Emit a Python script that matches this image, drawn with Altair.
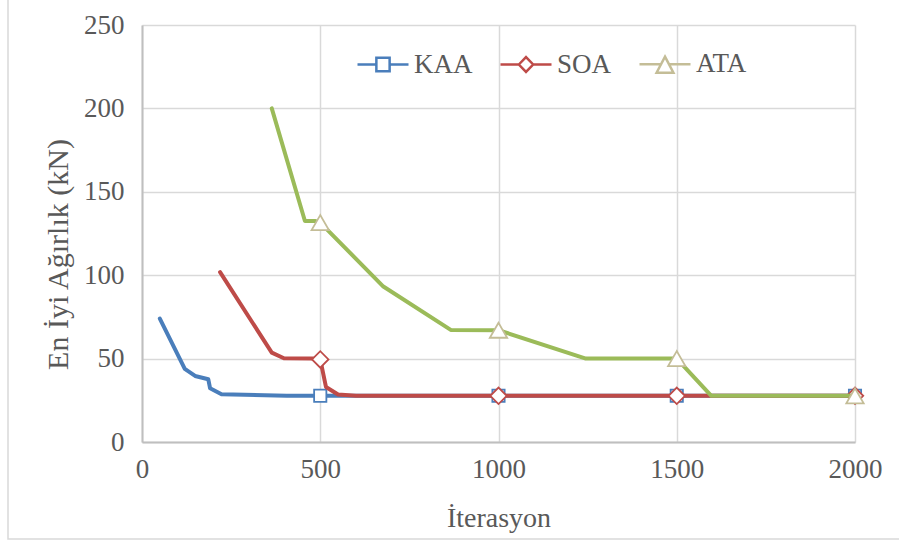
import altair as alt
import pandas as pd

# ---- data ----
SERIES = ["KAA", "SOA", "ATA"]

kaa_iter = [50, 120, 149, 186, 191, 223, 406, 500, 1000, 1500, 2000]
kaa_val = [74, 43.8, 39.6, 37.6, 32.2, 28.6, 27.8, 27.7, 27.7, 27.7, 27.7]

soa_iter = [219, 364, 398, 478, 500, 516, 550, 600, 1000, 1500, 2000]
soa_val = [101.8, 53.6, 50.2, 50, 49.5, 33, 28.5, 27.7, 27.7, 27.7, 27.7]

ata_iter = [364, 457, 485, 500, 677, 866, 1000, 1245, 1500, 1597, 2000]
ata_val = [200, 132.5, 132.5, 131.5, 93.2, 67.2, 67, 50, 50, 27.7, 27.7]

MARKER_ITERS = [500, 1000, 1500, 2000]

x_ticks = [0, 500, 1000, 1500, 2000]
y_ticks = [0, 50, 100, 150, 200, 250]

rows = []
for name, its, vals in [("KAA", kaa_iter, kaa_val), ("SOA", soa_iter, soa_val), ("ATA", ata_iter, ata_val)]:
    for i, v in zip(its, vals):
        rows.append({"series": name, "iter": i, "value": v, "marker": i in MARKER_ITERS})
df = pd.DataFrame(rows)

FONT = "Liberation Serif"
TXT = "#595959"
line_colors = {"KAA": "#4a7ebb", "SOA": "#be4b48", "ATA": "#9bbb59"}
marker_colors = {"KAA": "#4a7ebb", "SOA": "#be4b48", "ATA": "#c4bd97"}
marker_shapes = {"KAA": "square", "SOA": "diamond", "ATA": "triangle-up"}
marker_sizes = {"KAA": 150, "SOA": 270, "ATA": 300}

legend_paths = [
    "M-1,0H-0.26M0.26,0H1M-0.26,-0.26H0.26V0.26H-0.26Z",
    "M-1,0H-0.28M0.28,0H1M-0.28,0L0,-0.29L0.28,0L0,0.29Z",
    "M-1,0H-0.16M0.16,0H1M0,-0.3L0.33,0.33H-0.33Z",
]

x_enc = alt.X("iter:Q", scale=alt.Scale(domain=[0, 2000], nice=False),
              axis=alt.Axis(values=x_ticks, format="d", labelFlush=False,
                            title="İterasyon", titleY=76, titleBaseline="middle",
                            titleFontSize=28, labelPadding=14))
y_enc = alt.Y("value:Q", scale=alt.Scale(domain=[0, 250], nice=False),
              axis=alt.Axis(values=y_ticks, format="d", title="En İyi Ağırlık (kN)",
                            titleX=-84, titleY=229, titleFontSize=30,
                            titleBaseline="middle", titleAngle=-90, labelPadding=18))

base = alt.Chart(df)

# outer chart border (decoration only)
border = alt.Chart(pd.DataFrame({"a": [0]})).mark_rect(
    fillOpacity=0, stroke="#d9d9d9", strokeWidth=1.5
).encode(x=alt.value(-134), x2=alt.value(800), y=alt.value(-40), y2=alt.value(514))

layers = []
for s in SERIES:
    layers.append(
        base.transform_filter(alt.datum.series == s).mark_line(
            color=line_colors[s], strokeWidth=4, strokeJoin="round", strokeCap="round"
        ).encode(x=x_enc, y=y_enc)
    )
    layers.append(
        base.transform_filter((alt.datum.series == s) & alt.datum.marker).mark_point(
            shape=marker_shapes[s], size=marker_sizes[s], filled=True, fill="white",
            stroke=marker_colors[s], strokeWidth=1.8, opacity=1
        ).encode(x=x_enc, y=y_enc)
    )

leg = dict(title=None, orient="none", legendX=214, legendY=12,
           direction="horizontal", symbolSize=2601,
           symbolStrokeWidth=2.5, symbolOpacity=1,
           columnPadding=22, labelOffset=4,
           labelFont=FONT, labelFontSize=27, labelColor=TXT)

legend_layer = base.transform_filter(alt.datum.marker).mark_point(
    filled=False, opacity=0, strokeWidth=2.5
).encode(
    x=x_enc, y=y_enc,
    shape=alt.Shape("series:N", scale=alt.Scale(domain=SERIES, range=legend_paths),
                    legend=alt.Legend(**leg)),
    stroke=alt.Stroke("series:N", scale=alt.Scale(domain=SERIES,
                                                  range=[marker_colors[s] for s in SERIES]),
                      legend=alt.Legend(**leg)),
)
layers.append(legend_layer)
layers.append(border)

chart = alt.layer(*layers).properties(
    width=713, height=417,
    padding={"left": 142, "top": 25, "right": 44, "bottom": 101},
    autosize=alt.AutoSizeParams(type="none"),
    background="white",
).configure_view(stroke=None).configure_axis(
    labelFont=FONT, labelFontSize=27, labelColor=TXT,
    titleFont=FONT, titleFontSize=28, titleColor=TXT, titleFontWeight="normal",
    domainColor="#bfbfbf", domainWidth=2, gridColor="#d9d9d9", gridWidth=1.5,
    ticks=False,
).configure_legend(labelFont=FONT, labelFontSize=27, labelColor=TXT)

chart.save("out.html", embed_options={"renderer": "svg", "actions": False})
